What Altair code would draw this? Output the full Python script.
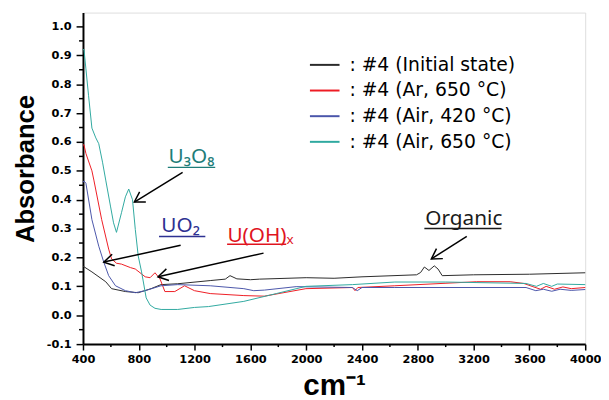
import math
import altair as alt
import pandas as pd

# ---------------- data ----------------
series_names = ["#4 (Initial state)", "#4 (Ar, 650 °C)", "#4 (Air, 420 °C)", "#4 (Air, 650 °C)"]
series_colors = ["#2a2a2a", "#ee1c24", "#4a55aa", "#2fa9a0"]

init_x = [400, 464, 563, 605, 704, 796, 888, 959, 1079, 1312, 1420, 1454, 1503, 1600, 1666,
          2000, 2200, 2400, 2791, 2820, 2847, 2880, 2918, 2945, 2975, 3200, 3600, 4000]
init_y = [0.17, 0.15, 0.116, 0.092, 0.082, 0.078, 0.092, 0.106, 0.109, 0.12, 0.125, 0.137, 0.126,
          0.123, 0.125, 0.13, 0.128, 0.133, 0.14, 0.148, 0.167, 0.155, 0.171, 0.16, 0.137, 0.14,
          0.142, 0.147]

ar650_x = [400, 407, 421, 464, 478, 534, 584, 605, 640, 676, 740, 775, 846, 881, 916, 952, 987,
           1058, 1128, 1199, 1312, 1553, 1700, 1998, 2331, 2350, 2370, 2635, 3222, 3462, 3560,
           3625, 3680, 3720, 3780, 3840, 3900, 4000]
ar650_y = [0.59, 0.59, 0.56, 0.50, 0.468, 0.331, 0.229, 0.195, 0.18, 0.177, 0.165, 0.16, 0.133,
           0.13, 0.147, 0.126, 0.082, 0.082, 0.102, 0.085, 0.075, 0.068, 0.066, 0.092, 0.096,
           0.085, 0.096, 0.102, 0.116, 0.116, 0.11, 0.099, 0.09, 0.1, 0.09, 0.098, 0.092, 0.096]

air420_x = [400, 407, 421, 464, 513, 549, 584, 633, 704, 775, 846, 959, 1079, 1312, 1553, 1624,
            1700, 1928, 2331, 2366, 2400, 2635, 3576, 3646, 3700, 3760, 3820, 3900, 4000]
air420_y = [0.46, 0.465, 0.457, 0.331, 0.239, 0.184, 0.137, 0.102, 0.085, 0.078, 0.085, 0.102,
            0.106, 0.102, 0.092, 0.085, 0.087, 0.099, 0.096, 0.085, 0.096, 0.096, 0.096, 0.085,
            0.09, 0.083, 0.09, 0.086, 0.089]

air650_x = [400, 407, 421, 440, 464, 492, 513, 540, 563, 598, 619, 640, 676, 704, 728, 755, 775,
            796, 820, 853, 881, 916, 960, 1079, 1200, 1300, 1553, 1786, 1998, 2331, 2635, 3000,
            3576, 3650, 3700, 3760, 3800, 4000]
air650_y = [0.92, 0.92, 0.853, 0.76, 0.648, 0.614, 0.594, 0.53, 0.468, 0.375, 0.32, 0.287, 0.355,
            0.41, 0.437, 0.40, 0.297, 0.205, 0.15, 0.06, 0.035, 0.024, 0.02, 0.02, 0.027, 0.03,
            0.048, 0.075, 0.10, 0.106, 0.115, 0.115, 0.11, 0.1, 0.11, 0.1, 0.108, 0.106]

x_ticks = [400, 800, 1200, 1600, 2000, 2400, 2800, 3200, 3600, 4000]
x_minor = [600, 1000, 1400, 1800, 2200, 2600, 3000, 3400, 3800]
y_ticks = [-0.1, 0.0, 0.1, 0.2, 0.3, 0.4, 0.5, 0.6, 0.7, 0.8, 0.9, 1.0]
y_minor = [-0.05, 0.05, 0.15, 0.25, 0.35, 0.45, 0.55, 0.65, 0.75, 0.85, 0.95]

ann_text = ["U₃O₈", "UO₂", "U(OH)ₓ", "Organic"]
ann_color = ["#1e7d79", "#2e3192", "#e0141e", "#1a1a1a"]
ann_x = [1178, 1100, 1673, 3130]
ann_y = [0.526, 0.287, 0.253, 0.311]
under_x1 = [1008, 945, 1433, 2847]
under_x2 = [1348, 1277, 1857, 3399]
under_y = [0.512, 0.273, 0.246, 0.300]
arrow_x1 = [1114, 1100, 1694, 3151]
arrow_y1 = [0.495, 0.242, 0.215, 0.273]
arrow_x2 = [768, 549, 938, 2897]
arrow_y2 = [0.392, 0.184, 0.133, 0.195]

# ---------------- layout ----------------
W, H = 509, 336
X_DOM = [400, 4000]
Y_DOM = [-0.1, 1.048]

rows = []
for name, xs_, ys_ in zip(series_names,
                          [init_x, ar650_x, air420_x, air650_x],
                          [init_y, ar650_y, air420_y, air650_y]):
    for i, (a, b) in enumerate(zip(xs_, ys_)):
        rows.append({"series": name, "x": a, "y": b, "i": i})
lines_df = pd.DataFrame(rows)

sx = W / (X_DOM[1] - X_DOM[0])
sy = H / (Y_DOM[1] - Y_DOM[0])
angles = []
for a1, b1, a2, b2 in zip(arrow_x1, arrow_y1, arrow_x2, arrow_y2):
    dx = (a2 - a1) * sx
    dy = -(b2 - b1) * sy
    angles.append(math.degrees(math.atan2(dy, dx)) % 360)

ann_df = pd.DataFrame({"t": ann_text, "c": ann_color, "x": ann_x, "y": ann_y,
                       "ux1": under_x1, "ux2": under_x2, "uy": under_y,
                       "ax1": arrow_x1, "ay1": arrow_y1, "ax2": arrow_x2, "ay2": arrow_y2,
                       "ang": angles})

xs = alt.Scale(domain=X_DOM, nice=False, zero=False)
ys = alt.Scale(domain=Y_DOM, nice=False, zero=False)

x_axis = alt.Axis(values=x_ticks, format="d", title="cm⁻¹", grid=False, tickSize=6,
                  tickWidth=1.5, tickColor="black", domainColor="black", domainWidth=2,
                  labelFont="DejaVu Sans", labelFontWeight="bold", labelFontSize=11.5,
                  labelColor="black", labelPadding=4, labelFlush=False, labelOverlap=False,
                  titleFont="Liberation Sans", titleFontWeight="bold", titleFontSize=30,
                  titleColor="black", titleBaseline="alphabetic", titleY=51)
y_axis = alt.Axis(values=y_ticks, title="Absorbance", grid=False, tickSize=7, tickWidth=1.5,
                  tickColor="black", domainColor="black", domainWidth=2,
                  labelFont="DejaVu Sans", labelFontWeight="bold", labelFontSize=11.5,
                  labelColor="black", labelPadding=5, labelFlush=False, labelOverlap=False,
                  labelExpr="replace(format(datum.value, '.1f'), '−', '-')",
                  titleFont="Liberation Sans", titleFontWeight="bold", titleFontSize=26,
                  titleColor="black", titleBaseline="alphabetic", titleAngle=270,
                  titleX=-50, titleY=158, titleAlign="center")


def X(f):
    return alt.X(f, scale=xs, axis=x_axis)


def Y(f):
    return alt.Y(f, scale=ys, axis=y_axis)


lines = alt.Chart(lines_df).mark_line(strokeWidth=1).encode(
    x=X("x:Q"),
    y=Y("y:Q"),
    color=alt.Color("series:N",
                    scale=alt.Scale(domain=series_names, range=series_colors),
                    legend=alt.Legend(orient="none", legendX=229, legendY=37, title=None,
                                      symbolType="stroke", symbolSize=900,
                                      symbolStrokeWidth=2, labelFontSize=19,
                                      labelFont="DejaVu Sans", labelColor="black",
                                      labelOffset=9, rowPadding=0, padding=0, labelLimit=400,
                                      labelExpr="':  ' + datum.label")),
    order="i:Q",
)

xminor = alt.Chart(pd.DataFrame({"v": x_minor})).mark_rule(color="black", strokeWidth=1.5).encode(
    x=X("v:Q"), y=alt.value(H), y2=alt.value(H + 3))
yminor = alt.Chart(pd.DataFrame({"v": y_minor})).mark_rule(color="black", strokeWidth=1.5).encode(
    y=Y("v:Q"), x=alt.value(-4), x2=alt.value(0))

base = alt.Chart(ann_df)
texts = base.mark_text(font="Noto Sans", fontSize=21, align="center",
                       baseline="alphabetic").encode(
    x=X("x:Q"), y=Y("y:Q"), text="t:N",
    color=alt.Color("c:N", scale=None))
unders = base.mark_rule(strokeWidth=1.5).encode(
    x=X("ux1:Q"), x2="ux2:Q", y=Y("uy:Q"),
    color=alt.Color("c:N", scale=None))
shafts = base.mark_rule(strokeWidth=1.5, color="black").encode(
    x=X("ax1:Q"), x2="ax2:Q", y=Y("ay1:Q"), y2="ay2:Q")
heads = base.mark_point(shape="M -1 -0.6 L 0 0 L -1 0.6", filled=False, size=400,
                        strokeWidth=1.5, color="black", opacity=1).encode(
    x=X("ax2:Q"), y=Y("ay2:Q"),
    angle=alt.Angle("ang:Q", scale=None))

chart = alt.layer(lines, xminor, yminor, shafts, heads, unders, texts).properties(
    width=W, height=H,
    autosize=alt.AutoSizeParams(type="none"),
    padding={"left": 76, "top": 2, "right": 16, "bottom": 54},
).configure_view(stroke="black", strokeWidth=1.5).configure_axis(
    labelOverlap=False).configure(background="white")

chart.save("out.html", embed_options={"renderer": "svg", "actions": False})
